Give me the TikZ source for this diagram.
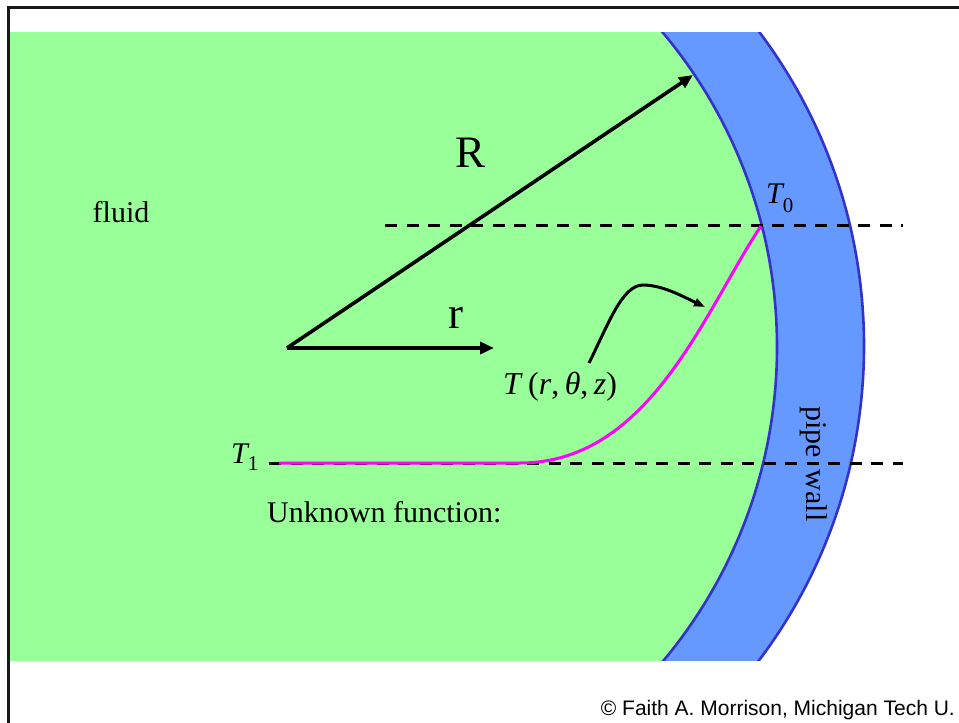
\documentclass[tikz,border=0pt]{standalone}
\usepackage{fontspec}
\setmainfont{Liberation Serif}
\newfontfamily\sansf{Liberation Sans}
\usetikzlibrary{arrows.meta}
\definecolor{fluidgreen}{HTML}{99FF99}
\definecolor{wallblue}{HTML}{6699FF}
\definecolor{walledge}{HTML}{3333CC}
\definecolor{magline}{HTML}{FF00FF}
\tikzset{
  vec/.style={line width=3.6pt, -{Triangle[length=14pt,width=12pt]}},
  pointer/.style={line width=3pt, -{Triangle[length=11pt,width=8pt]}},
  dashline/.style={line width=3pt, dash pattern=on 12pt off 9.5pt},
  profile/.style={line width=3pt, magline},
  wallline/.style={line width=2.6pt, walledge},
  txt/.style={inner sep=0pt, font=\fontsize{30}{32}\selectfont},
  big/.style={inner sep=0pt, font=\fontsize{45}{48}\selectfont},
}
\begin{document}
\begin{tikzpicture}[x=1pt,y=-1pt]
\useasboundingbox (0,0) rectangle (959,723);
\fill[white] (0,0) rectangle (959,723);
% fluid and pipe wall
\begin{scope}
  \clip (10,32) rectangle (959,660);
  \fill[wallblue] (341,346) circle[radius=523pt];
  \fill[fluidgreen] (287,347) circle[radius=490pt];
  \draw[wallline] (341,346) circle[radius=523pt];
  \draw[wallline] (287,347) circle[radius=490pt];
\end{scope}
% frame
\draw[line width=3pt, black!90] (8.7,723) -- (8.7,7.3) -- (959,7.3);
% coordinates
\coordinate (O) at (287,348);
\coordinate (Rtip) at (693,75);
\coordinate (rtip) at (494,348);
\coordinate (d1a) at (385,225);
\coordinate (d1b) at (903,225);
\coordinate (d2a) at (269,463);
\coordinate (d2b) at (903,463);
\coordinate (p0) at (279,463);
\coordinate (p1) at (520,463);
\coordinate (p2) at (761,226);
\coordinate (c0) at (589,363);
\coordinate (c1) at (643,285);
\coordinate (c2) at (705,307);
% dashed levels
\draw[dashline] (d1a) -- (d1b);
\draw[dashline] (d2a) -- (d2b);
% temperature profile
\draw[profile] (p0) -- (p1) .. controls (650,463) and (705,310) .. (p2);
% radius vectors
\draw[vec] (O) -- (Rtip);
\draw[vec] (O) -- (rtip);
% pointer to profile
\draw[pointer] (c0) .. controls (608,325) and (622,285) .. (c1) .. controls (662,285) and (682,296) .. (c2);
% labels
\node[txt, anchor=base] (fluid) at (121,222) {fluid};
\node[big, anchor=base] (Rlab) at (471,167) {R};
\node[big, anchor=base] (rlab) at (456,328) {r};
\node[txt, anchor=base west, font=\fontsize{32}{34}\selectfont] (Tfun) at (503,394)
  {\itshape T\/\upshape\,(\itshape r\/\upshape,\,\itshape θ\/\upshape,\,\itshape z\/\upshape)};
\node[txt, anchor=base west, font=\fontsize{30}{32}\selectfont] (T0) at (766,203)
  {\itshape T\upshape\raisebox{-9pt}{\fontsize{21}{22}\selectfont 0}};
\node[txt, anchor=base west, font=\fontsize{30}{32}\selectfont] (T1) at (231,463)
  {\itshape T\upshape\raisebox{-7pt}{\fontsize{21}{22}\selectfont 1}};
\node[txt, anchor=base west] (unk) at (267,522) {Unknown function:};
\node[txt, rotate=-90, font=\fontsize{30}{32}\selectfont] (wall) at (814,464) {pipe\hspace{4pt} wall};
\node[inner sep=0pt, anchor=base east, font=\sansf\fontsize{21}{24}\selectfont] (copy) at (955,715)
  {© Faith A. Morrison, Michigan Tech U.};
\end{tikzpicture}
\end{document}
